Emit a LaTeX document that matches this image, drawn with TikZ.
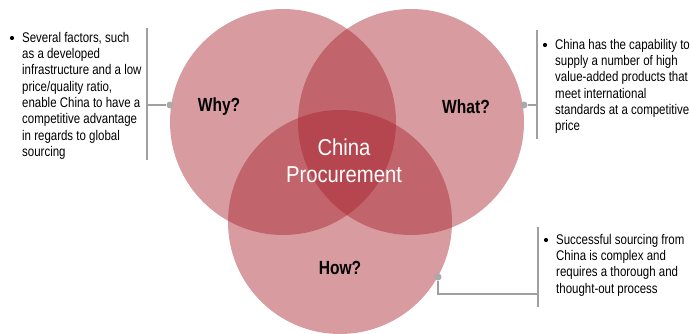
\documentclass[tikz,border=0pt]{standalone}
\usepackage{fontspec}
\setmainfont{Liberation Sans}[FakeStretch=0.82]
\newfontfamily\cfont{Liberation Sans}[FakeStretch=0.88]
\begin{document}
\begin{tikzpicture}[x=1pt,y=-1pt,
  venn/.style={fill={rgb,255:red,166;green,33;blue,44},fill opacity=0.45,draw=none},
  lbl/.style={font=\fontsize{19}{21}\selectfont\bfseries,text=black},
  body/.style={font=\fontsize{14}{16.3}\selectfont,align=left,anchor=north west,inner sep=0pt,text=black},
  bul/.style={circle,fill=black,inner sep=0pt,minimum size=4.2pt},
  conn/.style={draw={rgb,255:red,160;green,160;blue,160},line width=1.6pt},
  dotc/.style={circle,fill={rgb,255:red,170;green,170;blue,170},inner sep=0pt,minimum size=7pt}]
\useasboundingbox (0,0) rectangle (690,334);
\fill[venn] (283,122) circle[radius=113];
\fill[venn] (411,122) circle[radius=113];
\fill[venn] (340,222) circle[radius=112];
\node[lbl] (why) at (219,107) {Why?};
\node[lbl] (what) at (466,107) {What?};
\node[lbl] (how) at (340,268) {How?};
\node[font=\cfont\fontsize{23}{27}\selectfont,text=white,align=center] (center) at (344,161) {China\\Procurement};
% left
\coordinate (lt) at (147,28);
\coordinate (lb) at (147,160);
\coordinate (lm) at (147,105);
\node[dotc] (ld) at (170,105) {};
\draw[conn] (lt) -- (lb);
\draw[conn] (lm) -- (ld);
\node[bul] (lbul) at (12,38) {};
\node[body] (ltext) at (22,32) {Several factors, such\\as a developed\\infrastructure and a low\\price/quality ratio,\\enable China to have a\\competitive advantage\\in regards to global\\sourcing};
% right
\coordinate (rt) at (537,30);
\coordinate (rb) at (537,139);
\coordinate (rm) at (537,105);
\node[dotc] (rd) at (524,105) {};
\draw[conn] (rt) -- (rb);
\draw[conn] (rm) -- (rd);
\node[bul] (rbul) at (545,45) {};
\node[body] (rtext) at (555,39) {China has the capability to\\supply a number of high\\value-added products that\\meet international\\standards at a competitive\\price};
% bottom
\coordinate (bt) at (538,227);
\coordinate (bb) at (538,307);
\coordinate (bm) at (538,294);
\coordinate (bc) at (438,294);
\node[dotc] (bd) at (438,277) {};
\draw[conn] (bt) -- (bb);
\draw[conn] (bd) -- (bc) -- (bm);
\node[bul] (bbul) at (546,240) {};
\node[body] (btext) at (556,234) {Successful sourcing from\\China is complex and\\requires a thorough and\\thought-out process};
\end{tikzpicture}
\end{document}
